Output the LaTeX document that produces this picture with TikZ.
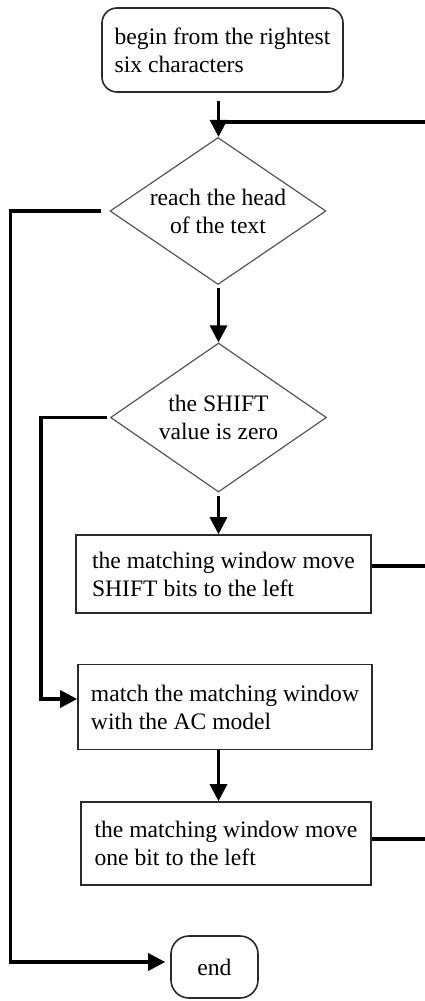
\documentclass[tikz,border=0pt]{standalone}
\usepackage{fontspec}
\setmainfont{Liberation Serif}
\usepackage{tikz}
\usetikzlibrary{shapes.geometric, arrows.meta}
\definecolor{Boxgrey}{HTML}{2A2A2A}
\definecolor{Diamondgrey}{HTML}{555555}
\tikzstyle{arrow} = [
    line width=3.2pt,
    -{Triangle[length=17pt,width=17pt]}
]
\tikzstyle{connector} = [line width=3.2pt]
\tikzstyle{startstop} = [draw=Boxgrey, line width=1.6pt, rounded corners=15pt, align=left, inner sep=0pt]
\tikzstyle{process} = [draw=Boxgrey, line width=1.6pt, rectangle, align=left, inner sep=0pt]
\tikzstyle{decision} = [draw=Diamondgrey, line width=1.2pt, diamond, aspect=1.47, align=center, inner sep=0pt]

\begin{document}
\begin{tikzpicture}[x=1pt, y=-1pt, every node/.style={font=\fontsize{23.6}{28}\selectfont}]
    \useasboundingbox (0,0) rectangle (425,1001);
    % Start
    \node[startstop, minimum width=241pt, minimum height=84pt] (start) at (222.5,50) {begin from the rightest\\six characters};
    % Decisions
    \node[decision, minimum width=216pt, minimum height=147pt] (reach) at (218,211) {reach the head\\of the text};
    \node[decision, minimum width=216pt, minimum height=149pt] (shiftzero) at (218.5,417.5) {the SHIFT\\value is zero};
    % Processes
    \node[process, minimum width=295pt, minimum height=78pt] (moveshift) at (223.5,574) {the matching window move\\SHIFT bits to the left};
    \node[process, minimum width=294pt, minimum height=85pt] (matchac) at (225,707) {match the matching window\\with the AC model};
    \node[process, minimum width=290pt, minimum height=83pt] (moveone) at (226,843.5) {the matching window move\\one bit to the left};
    % End
    \node[startstop, rounded corners=18pt, align=center, minimum width=87pt, minimum height=62pt] (finish) at (214.5,967) {end};
    % Helper coordinates
    \coordinate (spine) at (218.5,0);
    \coordinate (edge) at (425,0);
    \coordinate (outerrail) at (10.5,600);
    \coordinate (innerrail) at (41,550);
    \coordinate (loopin) at (425,122);
    \coordinate (shiftout) at ([yshift=8pt]moveshift.east);
    \coordinate (oneout) at ([yshift=4.5pt]moveone.east);
    % Main flow
    \draw[arrow] ([yshift=-8pt]spine |- start.south) -- (spine |- reach.north);
    \draw[arrow] ([yshift=-3pt]spine |- reach.south) -- (spine |- shiftzero.north);
    \draw[arrow] ([yshift=-3pt]spine |- shiftzero.south) -- (spine |- moveshift.north);
    \draw[arrow] (spine |- matchac.south) -- (spine |- moveone.north);
    % Loop back from the right
    \draw[connector] (loopin) -- (spine |- loopin);
    \draw[connector] (shiftout) -- (shiftout -| edge);
    \draw[connector] (oneout) -- (oneout -| edge);
    % Branches on the left
    \draw[arrow] ([xshift=-8pt]reach.west) -| (outerrail) |- ([xshift=-5pt,yshift=5pt]finish.west);
    \draw[arrow] ([xshift=-3pt]shiftzero.west) -| (innerrail) |- ([yshift=8pt]matchac.west);
\end{tikzpicture}
\end{document}
